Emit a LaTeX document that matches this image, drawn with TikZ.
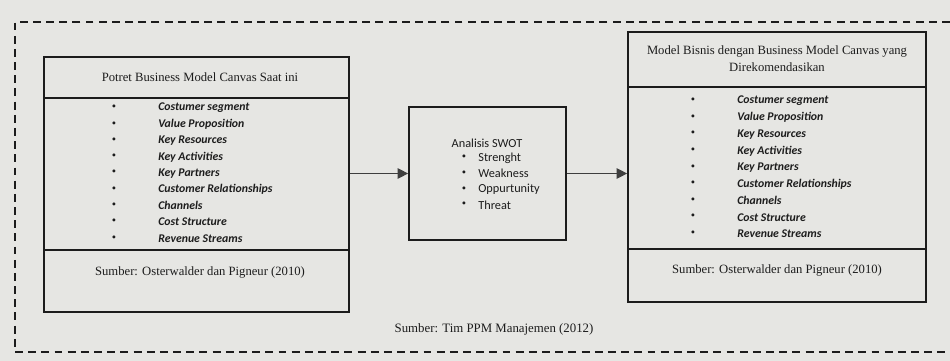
\documentclass[tikz,border=0pt]{standalone}
\usepackage{fontspec}
\setmainfont{Liberation Serif}
\newfontfamily\itemfont{Carlito}
\usetikzlibrary{arrows.meta, positioning, calc}
\definecolor{paper}{HTML}{E6E6E3}
\definecolor{ink}{HTML}{1C1C1C}
\tikzset{
	canvasbox/.style={draw=ink, line width=1pt, fill=paper, minimum width=#1, inner sep=0pt},
	sepline/.style={draw=ink, line width=1pt},
	titletext/.style={font=\fontsize{7.2}{9.7}\selectfont, text=ink, align=center},
	itemtext/.style={font=\itemfont\bfseries\itshape\fontsize{6.7}{8}\selectfont, text=ink, anchor=west, inner sep=0pt},
	bullettext/.style={font=\fontsize{7}{8}\selectfont, text=ink, inner sep=0pt},
	swottext/.style={font=\itemfont\fontsize{7}{8}\selectfont, text=ink, anchor=west, inner sep=0pt},
	flowarr/.style={-{Triangle[length=6pt, width=6pt]}, draw=ink!85, line width=0.7pt},
	framedash/.style={draw=ink, line width=1.3pt, dash pattern=on 4.5pt off 3pt},
}

\begin{document}
\begin{tikzpicture}[x=0.02cm, y=-0.02cm]
	\fill[paper] (0,0) rectangle (950,361);
	\useasboundingbox (0,0) rectangle (950,361);
	\draw[framedash] (950,22) -- (15,22) -- (15,352) -- (950,352);

	% three main blocks
	\node[canvasbox=6.1cm, minimum height=5.1cm] (now) at (196.5,184.5) {};
	\node[canvasbox=3.14cm, minimum height=2.66cm] (swot) at (487.5,173.5) {};
	\node[canvasbox=5.96cm, minimum height=5.4cm] (rec) at (777,167) {};

	% left block
	\draw[sepline] (now.west |- 0,98) -- (now.east |- 0,98);
	\draw[sepline] (now.west |- 0,250) -- (now.east |- 0,250);
	\node[titletext] (nowtitle) at (200,77) {Potret Business Model Canvas Saat ini};
	\foreach \txt [count=\i] in {Costumer segment, Value Proposition, Key Resources, Key Activities, Key Partners, Customer Relationships, Channels, Cost Structure, Revenue Streams}{
		\node[bullettext] (nowb\i) at (114,{108+16.3*(\i-1)}) {\textbullet};
		\node[itemtext] (nowi\i) at (158,{108+16.3*(\i-1)}) {\txt};
	}
	\node[titletext] (nowsrc) at (200,272) {Sumber: Osterwalder dan Pigneur (2010)};

	% middle block
	\node[titletext, font=\itemfont\fontsize{7}{8}\selectfont] (swottitle) at (487,143) {Analisis SWOT};
	\foreach \txt [count=\i] in {Strenght, Weakness, Oppurtunity, Threat}{
		\node[bullettext] (swotb\i) at (464,{158+15.7*(\i-1)}) {\textbullet};
		\node[swottext] (swoti\i) at (478,{158+15.7*(\i-1)}) {\txt};
	}

	% right block
	\draw[sepline] (rec.west |- 0,87) -- (rec.east |- 0,87);
	\draw[sepline] (rec.west |- 0,249) -- (rec.east |- 0,249);
	\node[titletext] (rectitle) at (777,58.5) {Model Bisnis dengan Business Model Canvas yang\\Direkomendasikan};
	\foreach \txt [count=\i] in {Costumer segment, Value Proposition, Key Resources, Key Activities, Key Partners, Customer Relationships, Channels, Cost Structure, Revenue Streams}{
		\node[bullettext] (recb\i) at (693,{101+16.6*(\i-1)}) {\textbullet};
		\node[itemtext] (reci\i) at (737,{101+16.6*(\i-1)}) {\txt};
	}
	\node[titletext] (recsrc) at (777,270) {Sumber: Osterwalder dan Pigneur (2010)};

	% arrows
	\draw[flowarr] (swot.west -| now.east) -- (swot.west);
	\draw[flowarr] (swot.east) -- (swot.east -| rec.west);

	\node[titletext, font=\fontsize{7.3}{9}\selectfont] (src) at (494,329) {Sumber: Tim PPM Manajemen (2012)};
\end{tikzpicture}
\end{document}
